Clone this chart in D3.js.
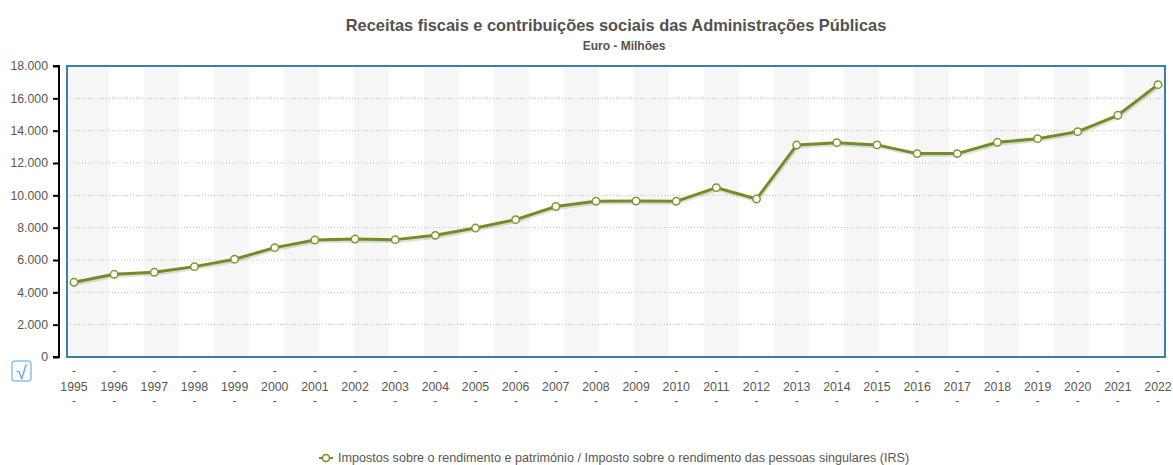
<!DOCTYPE html>
<html>
<head>
<meta charset="utf-8">
<script src="https://cdn.jsdelivr.net/npm/d3@7"></script>
<style>
  body { margin: 0; background: #fff; }
  svg { display: block; font-family: "Liberation Sans", Arial, sans-serif; }
</style>
</head>
<body>
<svg id="chart" width="1173" height="465"></svg>
<script>
  // ── Data ──────────────────────────────────────────────────────────────────
  const years = ['1995','1996','1997','1998','1999','2000','2001','2002','2003','2004',
                 '2005','2006','2007','2008','2009','2010','2011','2012','2013','2014',
                 '2015','2016','2017','2018','2019','2020','2021','2022'];
  const irs = [4620, 5115, 5240, 5590, 6050, 6765, 7236, 7297, 7260, 7526,
               7978, 8497, 9310, 9630, 9650, 9630, 10475, 9770, 13110, 13260,
               13120, 12580, 12580, 13280, 13505, 13940, 14950, 16845];
  const yTicks = [0, 2000, 4000, 6000, 8000, 10000, 12000, 14000, 16000, 18000];
  const seriesName = 'Impostos sobre o rendimento e património / Imposto sobre o rendimento das pessoas singulares (IRS)';

  const svg = d3.select('#chart');
  const plot = { left: 67, right: 1165, top: 66, bottom: 357 };
  const green = '#6f8f22';
  const textCol = '#5a5650';

  const x = d3.scalePoint().domain(years).range([74, 1158]);
  const y = d3.scaleLinear().domain([0, 18000]).range([plot.bottom, plot.top]);
  const fmt = v => d3.format(',')(v).replace(/,/g, '.');

  // Title
  svg.append('text').attr('x', 616).attr('y', 31).attr('text-anchor', 'middle')
    .attr('font-size', 16.4).attr('font-weight', 'bold').attr('fill', '#55524c')
    .text('Receitas fiscais e contribuições sociais das Administrações Públicas');
  svg.append('text').attr('x', 624).attr('y', 50).attr('text-anchor', 'middle')
    .attr('font-size', 12).attr('font-weight', 'bold').attr('fill', '#55524c')
    .text('Euro - Milhões');

  // Alternating background stripes
  const bandW = 35;
  const stripes = d3.range(74, 1158, bandW * 2);
  svg.append('g').selectAll('rect').data(stripes).enter().append('rect')
    .attr('x', (d, i) => i === 0 ? plot.left : d)
    .attr('y', plot.top)
    .attr('width', (d, i) => i === 0 ? d + bandW - plot.left
      : (i === stripes.length - 1 ? plot.right - d : bandW))
    .attr('height', plot.bottom - plot.top)
    .attr('fill', '#f6f6f6');

  // Dotted grid lines
  svg.append('g').selectAll('line').data(yTicks.filter(t => t > 0 && t < 18000)).enter().append('line')
    .attr('x1', plot.left).attr('x2', plot.right)
    .attr('y1', d => y(d)).attr('y2', d => y(d))
    .attr('stroke', '#bdbdbd').attr('stroke-width', 1).attr('stroke-dasharray', '1,2');

  // Plot border
  svg.append('rect')
    .attr('x', plot.left).attr('y', plot.top)
    .attr('width', plot.right - plot.left).attr('height', plot.bottom - plot.top)
    .attr('fill', 'none').attr('stroke', '#3e7eab').attr('stroke-width', 2);

  // Y axis
  const yAxis = svg.append('g').attr('transform', 'translate(59,0)')
    .call(d3.axisLeft(y).tickValues(yTicks).tickFormat(fmt).tickSize(6).tickPadding(5));
  yAxis.select('.domain').attr('stroke', '#000').attr('stroke-width', 2)
    .attr('d', `M-6,${y(18000)}H0V${y(0)}H-6`);
  yAxis.selectAll('.tick line').attr('stroke', '#000').attr('stroke-width', 2);
  yAxis.selectAll('.tick text').attr('fill', textCol).attr('font-size', 12.3)
    .attr('font-family', '"Liberation Sans", Arial, sans-serif');

  // X labels with dashes
  const xl = svg.append('g').selectAll('g').data(years).enter().append('g')
    .attr('transform', d => `translate(${x(d)},0)`);
  xl.append('text').attr('y', 375).attr('text-anchor', 'middle').attr('font-size', 12).attr('fill', textCol).text('-');
  xl.append('text').attr('y', 391).attr('text-anchor', 'middle').attr('font-size', 12.3).attr('fill', textCol).text(d => d);
  xl.append('text').attr('y', 405).attr('text-anchor', 'middle').attr('font-size', 12).attr('fill', textCol).text('-');

  // Checkbox icon
  svg.append('rect').attr('x', 12).attr('y', 361).attr('width', 19).attr('height', 20).attr('rx', 3)
    .attr('fill', '#fff').attr('stroke', '#88c2f5').attr('stroke-width', 1.5);
  svg.append('text').attr('x', 21.5).attr('y', 379).attr('text-anchor', 'middle')
    .attr('font-size', 19).attr('fill', '#4aa0ee').text('√');

  // Series line with soft shadow
  const line = d3.line().x((d, i) => x(years[i])).y(d => y(d));
  svg.append('path').datum(irs).attr('d', line)
    .attr('transform', 'translate(1,2)')
    .attr('fill', 'none').attr('stroke', '#000').attr('stroke-opacity', 0.12).attr('stroke-width', 3);
  svg.append('path').datum(irs).attr('d', line)
    .attr('fill', 'none').attr('stroke', green).attr('stroke-width', 3).attr('stroke-linejoin', 'round');
  svg.append('g').selectAll('circle').data(irs).enter().append('circle')
    .attr('cx', (d, i) => x(years[i])).attr('cy', d => y(d)).attr('r', 3.7)
    .attr('fill', '#fff').attr('stroke', '#7a9a30').attr('stroke-width', 1.5);

  // Legend
  const lg = svg.append('g').attr('transform', 'translate(319,458)');
  lg.append('line').attr('x1', 0).attr('x2', 14).attr('stroke', green).attr('stroke-width', 2);
  lg.append('circle').attr('cx', 7).attr('r', 3.5).attr('fill', '#fff').attr('stroke', green).attr('stroke-width', 1.5);
  lg.append('text').attr('x', 19).attr('y', 4).attr('font-size', 12.6).attr('fill', textCol).text(seriesName);
</script>
</body>
</html>
